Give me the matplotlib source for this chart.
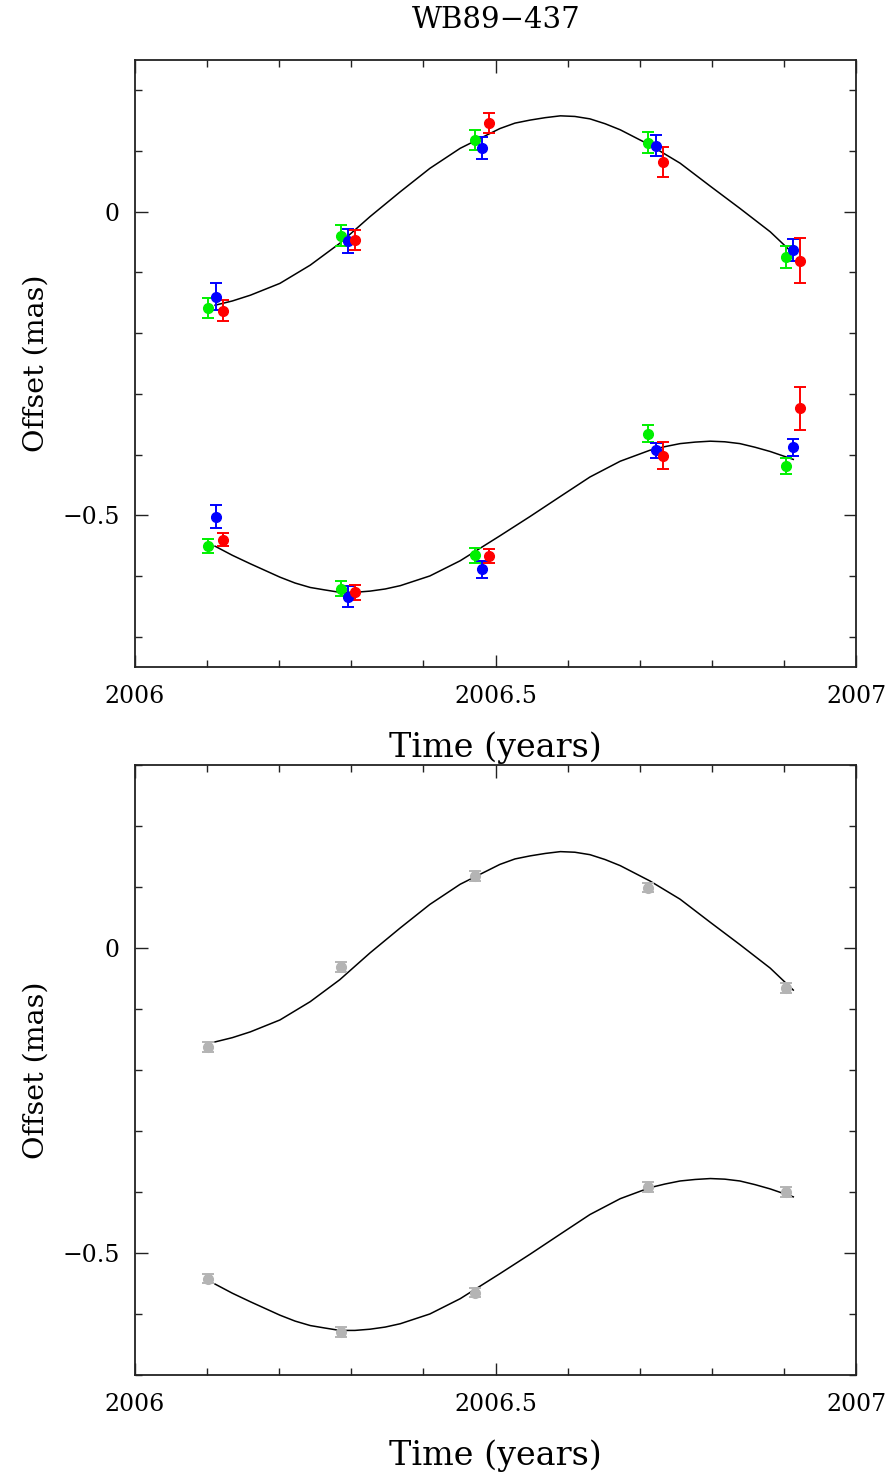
import matplotlib
matplotlib.use("Agg")
import matplotlib.pyplot as plt
import matplotlib.ticker as mticker

plt.rcParams['font.family'] = ['DejaVu Serif']

# epochs (years) for each colour
green_t = [2006.1017, 2006.2853, 2006.4716, 2006.7120, 2006.9033]
blue_t = [2006.1120, 2006.2950, 2006.4813, 2006.7220, 2006.9130]
red_t = [2006.1225, 2006.3056, 2006.4914, 2006.7320, 2006.9227]
gray_t = [2006.1016, 2006.2853, 2006.4716, 2006.7111, 2006.9029]

# top panel, upper track (mas)
green_up = [-0.158, -0.0395, 0.118, 0.114, -0.075]
green_up_err = [0.0167, 0.0175, 0.0165, 0.018, 0.018]
blue_up = [-0.140, -0.0477, 0.105, 0.109, -0.063]
blue_up_err = [0.022, 0.020, 0.018, 0.017, 0.018]
red_up = [-0.163, -0.0466, 0.146, 0.082, -0.081]
red_up_err = [0.017, 0.017, 0.017, 0.025, 0.037]

# top panel, lower track
green_lo = [-0.5505, -0.621, -0.566, -0.3657, -0.419]
green_lo_err = [0.0115, 0.012, 0.012, 0.0137, 0.0137]
blue_lo = [-0.5028, -0.634, -0.589, -0.393, -0.388]
blue_lo_err = [0.019, 0.017, 0.014, 0.0126, 0.0137]
red_lo = [-0.540, -0.627, -0.567, -0.402, -0.324]
red_lo_err = [0.0115, 0.012, 0.012, 0.0225, 0.036]

# bottom panel (combined)
gray_up = [-0.162, -0.031, 0.118, 0.099, -0.066]
gray_up_err = [0.008, 0.008, 0.008, 0.008, 0.008]
gray_lo = [-0.542, -0.630, -0.565, -0.392, -0.4005]
gray_lo_err = [0.008, 0.008, 0.008, 0.008, 0.008]

# model curves
up_t = [2006.111, 2006.135, 2006.160, 2006.201, 2006.243, 2006.284, 2006.326, 2006.368,
        2006.409, 2006.451, 2006.506, 2006.527, 2006.548, 2006.569, 2006.590, 2006.610,
        2006.631, 2006.652, 2006.673, 2006.714, 2006.756, 2006.798, 2006.839, 2006.881,
        2006.913]
up_v = [-0.154, -0.147, -0.1375, -0.118, -0.088, -0.052, -0.008, 0.033, 0.0715, 0.1045,
        0.137, 0.146, 0.151, 0.155, 0.158, 0.157, 0.153, 0.145, 0.135, 0.110, 0.080,
        0.042, 0.0055, -0.033, -0.069]
lo_t = [2006.111, 2006.135, 2006.160, 2006.201, 2006.222, 2006.243, 2006.263, 2006.284,
        2006.305, 2006.326, 2006.347, 2006.368, 2006.409, 2006.451, 2006.506, 2006.548,
        2006.590, 2006.631, 2006.673, 2006.714, 2006.735, 2006.756, 2006.777, 2006.798,
        2006.818, 2006.839, 2006.860, 2006.881, 2006.913]
lo_v = [-0.551, -0.566, -0.580, -0.602, -0.6117, -0.619, -0.623, -0.627, -0.627, -0.625,
        -0.6215, -0.616, -0.600, -0.575, -0.534, -0.502, -0.469, -0.437, -0.411, -0.393,
        -0.387, -0.382, -0.3795, -0.378, -0.379, -0.382, -0.388, -0.395, -0.408]


def fmt(v, pos):
    s = '%g' % round(v, 3)
    return s.replace('-', '\u2212')


def style_axes(ax, ylim):
    ax.set_xlim(2006, 2007)
    ax.set_ylim(*ylim)
    ax.xaxis.set_major_locator(mticker.MultipleLocator(0.5))
    ax.xaxis.set_minor_locator(mticker.MultipleLocator(0.1))
    ax.yaxis.set_major_locator(mticker.MultipleLocator(0.5))
    ax.yaxis.set_minor_locator(mticker.MultipleLocator(0.1))
    ax.xaxis.set_major_formatter(mticker.FuncFormatter(fmt))
    ax.yaxis.set_major_formatter(mticker.FuncFormatter(fmt))
    ax.tick_params(which='both', direction='in', top=True, right=True,
                   width=1.0, color='#222222', labelsize=17)
    ax.tick_params(which='major', length=9)
    ax.tick_params(which='minor', length=5)
    ax.tick_params(axis='x', which='major', pad=13)
    ax.tick_params(axis='y', which='major', pad=11)
    for sp in ax.spines.values():
        sp.set_linewidth(1.3)
        sp.set_color('#222222')
    ax.set_xlabel('Time (years)', fontsize=24, labelpad=17)
    ax.set_ylabel('Offset (mas)', fontsize=20.5, labelpad=9)


fig = plt.figure(figsize=(8.9, 14.74), dpi=100)
ax1 = fig.add_axes([0.1517, 0.5475, 0.8101, 0.4118])
ax2 = fig.add_axes([0.1517, 0.0672, 0.8101, 0.4138])

eb = dict(fmt='o', markersize=7, capsize=4, elinewidth=1.4, capthick=1.4)

for ax in (ax1, ax2):
    ax.plot(up_t, up_v, color='black', lw=1.1, zorder=1)
    ax.plot(lo_t, lo_v, color='black', lw=1.1, zorder=1)

ax1.errorbar(green_t, green_up, yerr=green_up_err, color='#00f000', **eb)
ax1.errorbar(green_t, green_lo, yerr=green_lo_err, color='#00f000', **eb)
ax1.errorbar(blue_t, blue_up, yerr=blue_up_err, color='#0000ff', **eb)
ax1.errorbar(blue_t, blue_lo, yerr=blue_lo_err, color='#0000ff', **eb)
ax1.errorbar(red_t, red_up, yerr=red_up_err, color='#ff0000', **eb)
ax1.errorbar(red_t, red_lo, yerr=red_lo_err, color='#ff0000', **eb)
style_axes(ax1, (-0.75, 0.25))

ax2.errorbar(gray_t, gray_up, yerr=gray_up_err, color='#b4b4b4', **eb)
ax2.errorbar(gray_t, gray_lo, yerr=gray_lo_err, color='#b4b4b4', **eb)
style_axes(ax2, (-0.7, 0.3))

fig.text(0.558, 1 - 20 / 1474, 'WB89\u2212437', ha='center', va='center', fontsize=21)

fig.savefig('out.png', dpi=100)
